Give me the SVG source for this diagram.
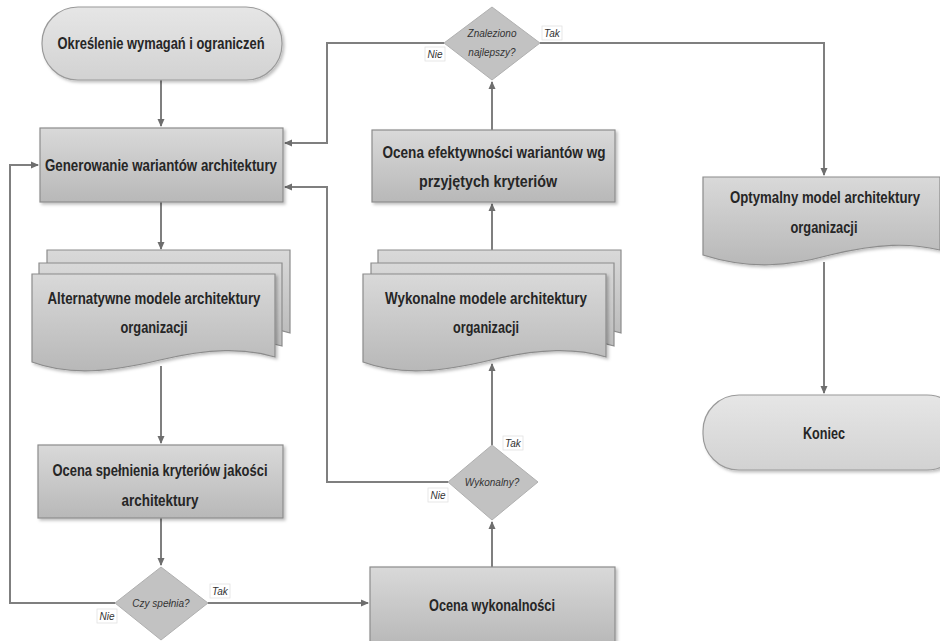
<svg xmlns="http://www.w3.org/2000/svg" width="940" height="641" viewBox="0 0 940 641">
<style>
.box{stroke:#8c8c8c;stroke-width:1.2;fill:url(#gBox)}
.term{stroke:#9a9a9a;stroke-width:1.2;fill:url(#gTerm)}
.dia{stroke:#b0b0b0;stroke-width:1;fill:#c2c2c2}
.doc{stroke:#8c8c8c;stroke-width:1.2;fill:url(#gBox)}
.t{font-family:"Liberation Sans Narrow","Liberation Sans",Arial,sans-serif;font-weight:bold;font-size:16.5px;fill:#262626;text-anchor:middle}
.s{font-family:"Liberation Sans Narrow","Liberation Sans",Arial,sans-serif;font-style:italic;font-size:10px;fill:#333;text-anchor:middle}
.lbl{fill:#fff;stroke:#e2e2e2;stroke-width:0.8}
.c{fill:none;stroke:#7f7f7f;stroke-width:2}
</style>
<defs>
<linearGradient id="gBox" x1="0" y1="0" x2="0" y2="1"><stop offset="0" stop-color="#d9d9d9"/><stop offset="1" stop-color="#b8b8b8"/></linearGradient>
<linearGradient id="gTerm" x1="0" y1="0" x2="0" y2="1"><stop offset="0" stop-color="#e6e6e6"/><stop offset="1" stop-color="#d2d2d2"/></linearGradient>
<filter id="sh" x="-5%" y="-5%" width="115%" height="120%"><feDropShadow dx="2" dy="2" stdDeviation="1.5" flood-color="#000" flood-opacity="0.25"/></filter>
<marker id="ah" markerWidth="8" markerHeight="8" refX="7" refY="4" orient="auto" markerUnits="userSpaceOnUse"><path d="M0,0.5 L8,4 L0,7.5 Z" fill="#6e6e6e"/></marker>
<path id="docShape" d="M0,0 H243 V83 C213,74 178,74 128,86 C78,98 38,102 0,88 Z"/>
</defs>

<g id="connectors">
<path class="c" d="M161,80 V126" marker-end="url(#ah)"/>
<path class="c" d="M161,202 V249" marker-end="url(#ah)"/>
<path class="c" d="M161,366 V443" marker-end="url(#ah)"/>
<path class="c" d="M161,518 V565" marker-end="url(#ah)"/>
<path class="c" d="M115,603 H10 V165 H38" marker-end="url(#ah)"/>
<path class="c" d="M208,603 H368" marker-end="url(#ah)"/>
<path class="c" d="M492,567 V522" marker-end="url(#ah)"/>
<path class="c" d="M448,482 H327 V187 H285" marker-end="url(#ah)"/>
<path class="c" d="M492,445 V364" marker-end="url(#ah)"/>
<path class="c" d="M492,250 V204" marker-end="url(#ah)"/>
<path class="c" d="M492,130 V82" marker-end="url(#ah)"/>
<path class="c" d="M444,43 H327 V143 H285" marker-end="url(#ah)"/>
<path class="c" d="M540,43 H824 V175" marker-end="url(#ah)"/>
<path class="c" d="M824,262 V393" marker-end="url(#ah)"/>
</g>

<g id="start">
<rect class="term" x="42" y="7" width="240" height="73" rx="36" ry="36" filter="url(#sh)"/>
<text class="t" x="161" y="49" textLength="207" lengthAdjust="spacingAndGlyphs">Określenie wymagań i ograniczeń</text>
</g>

<g id="generate">
<rect class="box" x="40" y="128" width="243" height="74" filter="url(#sh)"/>
<text class="t" x="161" y="171" textLength="232" lengthAdjust="spacingAndGlyphs">Generowanie wariantów architektury</text>
</g>

<g id="alternatives">
<use href="#docShape" class="doc" transform="translate(47,250)"/>
<use href="#docShape" class="doc" transform="translate(39,263)"/>
<use href="#docShape" class="doc" transform="translate(32,274)" filter="url(#sh)"/>
<text class="t" x="154" y="304" textLength="213" lengthAdjust="spacingAndGlyphs">Alternatywne modele architektury</text>
<text class="t" x="154" y="333" textLength="67" lengthAdjust="spacingAndGlyphs">organizacji</text>
</g>

<g id="quality">
<rect class="box" x="38" y="445" width="245" height="73" filter="url(#sh)"/>
<text class="t" x="160" y="476" textLength="215" lengthAdjust="spacingAndGlyphs">Ocena spełnienia kryteriów jakości</text>
<text class="t" x="160" y="506" textLength="77" lengthAdjust="spacingAndGlyphs">architektury</text>
</g>

<g id="meets">
<polygon class="dia" points="161,567 208,603 161,640 115,603"/>
<text class="s" x="161" y="607">Czy spełnia?</text>
<rect class="lbl" x="210" y="584" width="20" height="14"/>
<text class="s" x="220" y="595">Tak</text>
<rect class="lbl" x="97" y="609" width="20" height="14"/>
<text class="s" x="107" y="620">Nie</text>
</g>

<g id="feasibility">
<rect class="box" x="370" y="567" width="245" height="78" filter="url(#sh)"/>
<text class="t" x="492" y="611" textLength="126" lengthAdjust="spacingAndGlyphs">Ocena wykonalności</text>
</g>

<g id="feasible">
<polygon class="dia" points="492,445 538,482 492,520 448,482"/>
<text class="s" x="492" y="486">Wykonalny?</text>
<rect class="lbl" x="503" y="436" width="20" height="14"/>
<text class="s" x="513" y="447">Tak</text>
<rect class="lbl" x="428" y="488" width="20" height="14"/>
<text class="s" x="438" y="499">Nie</text>
</g>

<g id="feasibleModels">
<use href="#docShape" class="doc" transform="translate(378,250)"/>
<use href="#docShape" class="doc" transform="translate(371,263)"/>
<use href="#docShape" class="doc" transform="translate(363,274)" filter="url(#sh)"/>
<text class="t" x="486" y="304" textLength="202" lengthAdjust="spacingAndGlyphs">Wykonalne modele architektury</text>
<text class="t" x="486" y="333" textLength="66" lengthAdjust="spacingAndGlyphs">organizacji</text>
</g>

<g id="efficiency">
<rect class="box" x="372" y="130" width="243" height="72" filter="url(#sh)"/>
<text class="t" x="494" y="158" textLength="223" lengthAdjust="spacingAndGlyphs">Ocena efektywności wariantów wg</text>
<text class="t" x="488" y="187" textLength="138" lengthAdjust="spacingAndGlyphs">przyjętych kryteriów</text>
</g>

<g id="best">
<polygon class="dia" points="492,7 540,43 492,80 444,43"/>
<text class="s" x="492" y="37">Znaleziono</text>
<text class="s" x="492" y="56">najlepszy?</text>
<rect class="lbl" x="542" y="26" width="20" height="14"/>
<text class="s" x="552" y="37">Tak</text>
<rect class="lbl" x="425" y="47" width="20" height="14"/>
<text class="s" x="435" y="58">Nie</text>
</g>

<g id="optimal">
<path class="doc" d="M703,177 H940 V250 C910,243 880,243 830,255 C790,266 750,270 703,255 Z" filter="url(#sh)"/>
<text class="t" x="825" y="203" textLength="190" lengthAdjust="spacingAndGlyphs">Optymalny model architektury</text>
<text class="t" x="824" y="233" textLength="67" lengthAdjust="spacingAndGlyphs">organizacji</text>
</g>

<g id="end">
<rect class="term" x="703" y="395" width="260" height="75" rx="36" ry="36" filter="url(#sh)"/>
<text class="t" x="824" y="439" textLength="42" lengthAdjust="spacingAndGlyphs">Koniec</text>
</g>
</svg>
